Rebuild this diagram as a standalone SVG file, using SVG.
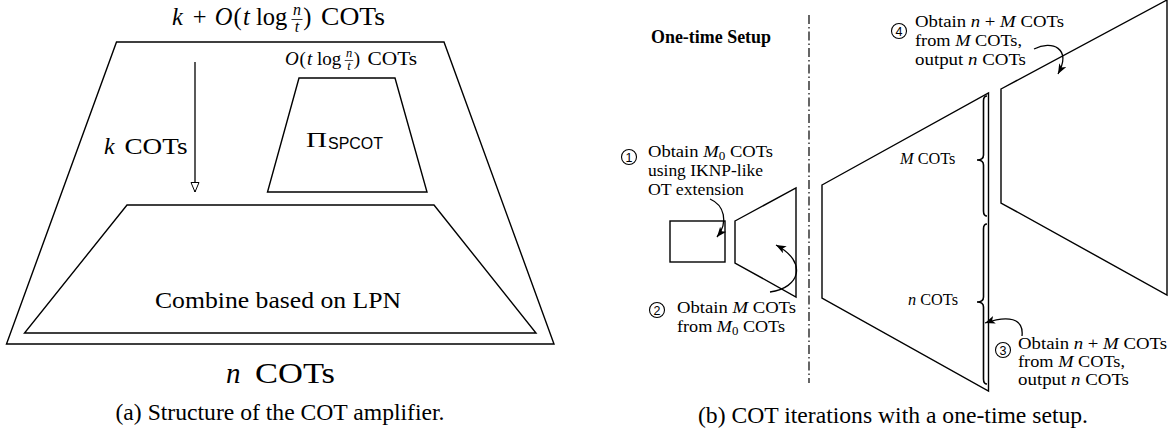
<svg xmlns="http://www.w3.org/2000/svg" width="1173" height="435" viewBox="0 0 1173 435">
<style>
.s{fill:none;stroke:#000;stroke-width:1.4;stroke-linejoin:miter}
.i{font-style:italic}
.c{fill:#fff;stroke:#000;stroke-width:1.1}
.ar{fill:none;stroke:#000;stroke-width:1.3}
</style>
<defs>
<marker id="ah" markerUnits="userSpaceOnUse" markerWidth="12" markerHeight="10" refX="10" refY="4" orient="auto"><path d="M0,0 L10,4 L0,8 L2.5,4 z" fill="#000"/></marker>
<marker id="oh" markerUnits="userSpaceOnUse" markerWidth="12" markerHeight="12" refX="10" refY="4.5" orient="auto"><path d="M0.5,0.5 L10,4.5 L0.5,8.5 z" fill="#fff" stroke="#000" stroke-width="1"/></marker>
</defs>

<g font-family="Liberation Serif, serif" fill="#000">
<!-- (a) -->
<g id="title-a" font-size="24.5">
<text x="172" y="25" class="i">k</text>
<text x="199.7" y="25" text-anchor="middle">+</text>
<text x="214.7" y="25" class="i">O</text>
<text x="233.4" y="25">(</text>
<text x="242.9" y="25" class="i">t</text>
<text x="255.9" y="25" textLength="31.3" lengthAdjust="spacingAndGlyphs">log</text>
<text x="297" y="15" class="i" font-size="16" text-anchor="middle">n</text>
<line x1="291.5" y1="19.5" x2="302.5" y2="19.5" stroke="#000" stroke-width="0.8"/>
<text x="297" y="32" class="i" font-size="16" text-anchor="middle">t</text>
<text x="303.3" y="25">)</text>
<text x="321" y="25" textLength="64" lengthAdjust="spacingAndGlyphs">COTs</text>
</g>
<g id="outer">
<polygon class="s" points="116.5,42 444,42 554,344 6.5,344"/>
</g>
<g id="spcot">
<polygon class="s" points="299,78 395,78 427,192 267.5,192"/>
<g font-size="19">
<text x="285" y="65" class="i">O</text>
<text x="299.5" y="65">(</text>
<text x="306.9" y="65" class="i">t</text>
<text x="317" y="65" textLength="24.3" lengthAdjust="spacingAndGlyphs">log</text>
<text x="349" y="57" class="i" font-size="12.5" text-anchor="middle">n</text>
<line x1="344.7" y1="60.5" x2="353.3" y2="60.5" stroke="#000" stroke-width="0.7"/>
<text x="349" y="70" class="i" font-size="12.5" text-anchor="middle">t</text>
<text x="353.8" y="65">)</text>
<text x="367.5" y="65" textLength="49.7" lengthAdjust="spacingAndGlyphs">COTs</text>
</g>
<text x="306" y="147" font-size="22" textLength="21" lengthAdjust="spacingAndGlyphs">Π</text>
<text x="328" y="149" font-family="Liberation Sans, sans-serif" font-size="16" textLength="55" lengthAdjust="spacingAndGlyphs">SPCOT</text>
</g>
<g id="combine">
<polygon class="s" points="127,205 434,205 536,333 24.5,333"/>
<text x="155" y="308" font-size="23" textLength="246" lengthAdjust="spacingAndGlyphs">Combine based on LPN</text>
</g>
<g id="k-cots" font-size="24">
<text x="104" y="154" class="i">k</text>
<text x="124.5" y="154" textLength="63" lengthAdjust="spacingAndGlyphs">COTs</text>
</g>
<g id="n-cots" font-size="29">
<text x="226" y="383" class="i">n</text>
<text x="255" y="383" textLength="80" lengthAdjust="spacingAndGlyphs">COTs</text>
</g>
<text id="caption-a" x="280" y="420" font-size="23.5" text-anchor="middle" textLength="329" lengthAdjust="spacingAndGlyphs">(a) Structure of the COT amplifier.</text>

<!-- (b) -->
<text id="setup-label" x="651" y="43" font-size="18" font-weight="bold" textLength="120" lengthAdjust="spacingAndGlyphs">One-time Setup</text>
<g id="box0"><rect class="s" x="670" y="221" width="55" height="41"/></g>
<g id="trap0"><polygon class="s" points="735,221 796,188 796,297 735,263"/></g>
<g id="trap1"><polygon class="s" points="822,185 988.5,93 988.5,391 822,298"/></g>
<g id="trap2"><polygon class="s" points="1001,89 1167,0 1167,295 1001,203"/></g>

<g id="braces" fill="none" stroke="#000" stroke-width="1.6">
<path d="M987 96 Q983.5 96 983.5 101 L983.5 155 Q983.5 160 977 160 Q983.5 160 983.5 165 L983.5 211 Q983.5 216 987 216"/>
<path d="M987 224 Q983.5 224 983.5 229 L983.5 297 Q983.5 302 977 302 Q983.5 302 983.5 307 L983.5 379 Q983.5 384 987 384"/>
</g>
<g id="brace-labels" font-size="16.3">
<text x="900" y="164"><tspan class="i">M</tspan> COTs</text>
<text x="908" y="305"><tspan class="i">n</tspan> COTs</text>
</g>

<g id="connectors">
<line class="ar" x1="195" y1="62" x2="195" y2="192" marker-end="url(#oh)"/>
<line x1="809" y1="15" x2="809" y2="383" stroke="#000" stroke-width="1.2" stroke-dasharray="9 3 1.5 3"/>
<path class="ar" d="M710 199 C724 205 729 222 717 237" marker-end="url(#ah)"/>
<path class="ar" d="M770 292 C800 288 808 262 776 245" marker-end="url(#ah)"/>
<path class="ar" d="M1022 336 C1024 318 1008 315 985 323" marker-end="url(#ah)"/>
<path class="ar" d="M1034 49 C1052 40 1072 48 1058 74" marker-end="url(#ah)"/>
</g>

<g id="step1">
<circle class="c" cx="629" cy="157" r="7.5"/><text font-family="Liberation Sans, sans-serif" font-size="12.5" text-anchor="middle" x="629" y="161.5">1</text>
<g font-size="16.3">
<text x="648" y="157" textLength="125" lengthAdjust="spacingAndGlyphs">Obtain <tspan class="i">M</tspan><tspan font-size="11.5" dy="3">0</tspan><tspan dy="-3"> COTs</tspan></text>
<text x="648" y="176" textLength="115" lengthAdjust="spacingAndGlyphs">using IKNP-like</text>
<text x="648" y="195" textLength="96" lengthAdjust="spacingAndGlyphs">OT extension</text>
</g>
</g>
<g id="step2">
<circle class="c" cx="657" cy="310" r="7.5"/><text font-family="Liberation Sans, sans-serif" font-size="12.5" text-anchor="middle" x="657" y="314.5">2</text>
<g font-size="16.3">
<text x="677" y="313" textLength="119" lengthAdjust="spacingAndGlyphs">Obtain <tspan class="i">M</tspan> COTs</text>
<text x="677" y="332" textLength="108" lengthAdjust="spacingAndGlyphs">from <tspan class="i">M</tspan><tspan font-size="11.5" dy="3">0</tspan><tspan dy="-3"> COTs</tspan></text>
</g>
</g>
<g id="step3">
<circle class="c" cx="1003" cy="350" r="7.5"/><text font-family="Liberation Sans, sans-serif" font-size="12.5" text-anchor="middle" x="1003" y="354.5">3</text>
<g font-size="16.3">
<text x="1018" y="349" textLength="149" lengthAdjust="spacingAndGlyphs">Obtain <tspan class="i">n</tspan> + <tspan class="i">M</tspan> COTs</text>
<text x="1018" y="367" textLength="107" lengthAdjust="spacingAndGlyphs">from <tspan class="i">M</tspan> COTs,</text>
<text x="1018" y="385" textLength="111" lengthAdjust="spacingAndGlyphs">output <tspan class="i">n</tspan> COTs</text>
</g>
</g>
<g id="step4">
<circle class="c" cx="899" cy="31" r="7.5"/><text font-family="Liberation Sans, sans-serif" font-size="12.5" text-anchor="middle" x="899" y="35.5">4</text>
<g font-size="16.3">
<text x="915" y="27" textLength="149" lengthAdjust="spacingAndGlyphs">Obtain <tspan class="i">n</tspan> + <tspan class="i">M</tspan> COTs</text>
<text x="915" y="46" textLength="107" lengthAdjust="spacingAndGlyphs">from <tspan class="i">M</tspan> COTs,</text>
<text x="915" y="65" textLength="111" lengthAdjust="spacingAndGlyphs">output <tspan class="i">n</tspan> COTs</text>
</g>
</g>
<text id="caption-b" x="893" y="423" font-size="23.5" text-anchor="middle" textLength="390" lengthAdjust="spacingAndGlyphs">(b) COT iterations with a one-time setup.</text>
</g>
</svg>
